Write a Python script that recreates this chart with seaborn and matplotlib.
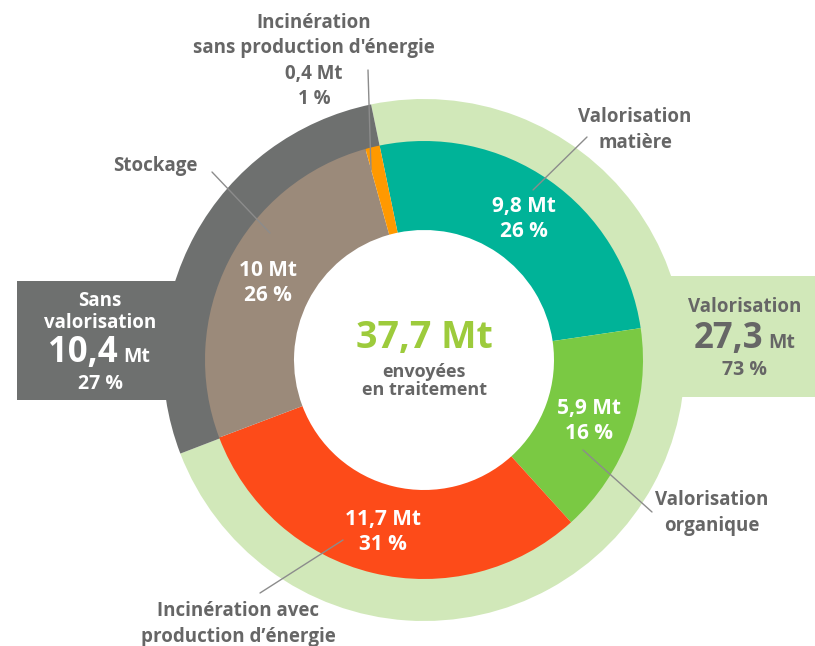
import matplotlib.pyplot as plt
import numpy as np
import seaborn as sns
from matplotlib.patches import Rectangle

# inner ring: treatment types (clockwise from the top)
treat_labels = ["Valorisation matière", "Valorisation organique",
                "Incinération avec production d'énergie", "Stockage",
                "Incinération sans production d'énergie"]
treat_mt = [9.8, 5.9, 11.7, 10.0, 0.4]
treat_pct = [26, 16, 31, 26, 1]
treat_colors = ["#00b398", "#7ac943", "#fd4b19", "#9b8a7a", "#ff9900"]

# outer ring: with / without valorisation
group_labels = ["Valorisation", "Sans valorisation"]
group_mt = [27.3, 10.4]
group_pct = [73, 27]
group_colors = ["#d1e8b9", "#6e706f"]

total_mt = 37.7

W, H = 815, 646
CX, CY = 424, H - 360
R_OUT, R_IN, R_HOLE = 261, 219, 130
START = 101.7
TXT = "#666666"


def fmt(v):
    return f"{v:g}".replace(".", ",")


sns.set_theme(style="white")
plt.rcParams["font.family"] = ["Open Sans", "DejaVu Sans"]

fig = plt.figure(figsize=(W / 100, H / 100), dpi=100)
ax = fig.add_axes([0, 0, 1, 1])

# side boxes (behind the rings)
ax.add_patch(Rectangle((17, H - 400), 185, 119, color=group_colors[1], lw=0, zorder=1))
ax.add_patch(Rectangle((650, H - 397), W - 650, 121, color=group_colors[0], lw=0, zorder=1))

ax.pie(group_mt, colors=group_colors, startangle=START, counterclock=False,
       radius=R_OUT, center=(CX, CY), frame=True,
       wedgeprops=dict(width=R_OUT - R_IN + 2, linewidth=0, zorder=2))
wedges, _ = ax.pie(treat_mt, colors=treat_colors, startangle=START, counterclock=False,
                   radius=R_IN, center=(CX, CY), frame=True,
                   wedgeprops=dict(width=R_IN - R_HOLE, linewidth=0, zorder=3))
ax.set_xlim(0, W)
ax.set_ylim(0, H)
ax.set_aspect("equal")
ax.axis("off")

# values inside the segments
for w, mt, pct in zip(wedges[:4], treat_mt[:4], treat_pct[:4]):
    ang = np.deg2rad((w.theta1 + w.theta2) / 2)
    x, y = CX + 175 * np.cos(ang), CY + 175 * np.sin(ang)
    ax.text(x, y - 2, f"{fmt(mt)} Mt\n{pct} %", ha="center", va="center", color="white",
            fontsize=15, fontweight="bold", linespacing=1.25, zorder=5)

# centre
ax.text(CX, H - 338, f"{fmt(total_mt)} Mt", ha="center", va="center", color="#9dcb3c",
        fontsize=27, fontweight="bold", zorder=5)
ax.text(CX, H - 381, "envoyées\nen traitement", ha="center", va="center", color=TXT,
        fontsize=13, fontweight="bold", linespacing=1.0, zorder=5)

# side box texts
ax.text(100, H - 312, "Sans\nvalorisation", ha="center", va="center", color="white",
        fontsize=13.5, fontweight="bold", linespacing=1.2, zorder=5)
ax.text(118, H - 362, fmt(group_mt[1]), ha="right", va="baseline", color="white",
        fontsize=25, fontweight="bold", zorder=5)
ax.text(123, H - 362, "Mt", ha="left", va="baseline", color="white",
        fontsize=14, fontweight="bold", zorder=5)
ax.text(100, H - 384, f"{group_pct[1]} %", ha="center", va="center", color="white",
        fontsize=14, fontweight="bold", zorder=5)

ax.text(745, H - 307, group_labels[0], ha="center", va="center", color=TXT,
        fontsize=13.5, fontweight="bold", zorder=5)
ax.text(763, H - 348, fmt(group_mt[0]), ha="right", va="baseline", color=TXT,
        fontsize=25, fontweight="bold", zorder=5)
ax.text(768, H - 348, "Mt", ha="left", va="baseline", color=TXT,
        fontsize=14, fontweight="bold", zorder=5)
ax.text(745, H - 370, f"{group_pct[0]} %", ha="center", va="center", color=TXT,
        fontsize=14, fontweight="bold", zorder=5)

# outside labels with leader lines
lab_kw = dict(ha="center", va="center", color=TXT, fontsize=13.5, fontweight="bold",
              linespacing=1.35, zorder=5)
ax.text(314, H - 61, f"Incinération\nsans production d'énergie\n{fmt(treat_mt[4])} Mt\n{treat_pct[4]} %",
        **lab_kw)
ax.text(155, H - 166, "Stockage", **lab_kw)
ax.text(635, H - 130, "Valorisation\nmatière", **lab_kw)
ax.text(712, H - 513, "Valorisation\norganique", **lab_kw)
ax.text(238, H - 624, "Incinération avec\nproduction d’énergie", **lab_kw)

leaders = [((368, 70), (371, 170)), ((212, 172), (270, 233)), ((587, 137), (533, 190)),
           ((583, 450), (652, 512)), ((343, 540), (260, 593))]
for (x0, y0), (x1, y1) in leaders:
    ax.plot([x0, x1], [H - y0, H - y1], color="#8c8c8c", lw=1, zorder=4)

fig.savefig("out.png", dpi=100)
